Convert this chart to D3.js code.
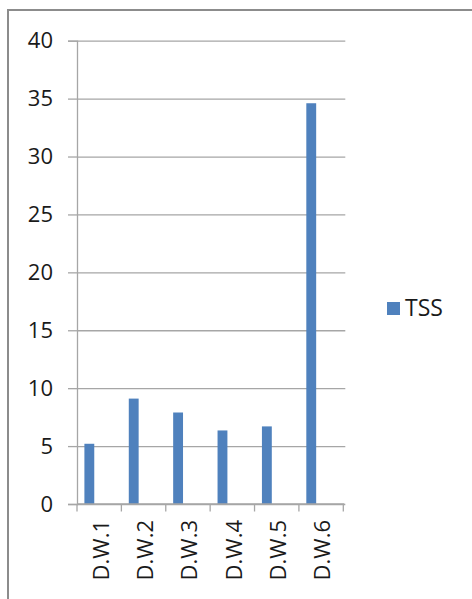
<!DOCTYPE html>
<html>
<head>
<meta charset="utf-8">
<script src="https://cdn.jsdelivr.net/npm/d3@7"></script>
<style>
  html, body { margin: 0; padding: 0; background: #fff; }
  svg { display: block; }
  text { font-family: "Open Sans", "Noto Sans", sans-serif; fill: #1a1a1a; }
</style>
</head>
<body>
<svg id="chart" width="472" height="599"></svg>
<script>
// Sampling sites and measured total suspended solids
const categories = ["D.W.1", "D.W.2", "D.W.3", "D.W.4", "D.W.5", "D.W.6"];
const tssValues = [5.2, 9.1, 7.9, 6.35, 6.7, 34.6];
const seriesName = "TSS";
// cluster slots per category (the series occupies the first slot)
const clusterSlots = [0, 1, 2];
const yTicks = [0, 5, 10, 15, 20, 25, 30, 35, 40];

(function () {
  const svg = d3.select("#chart");
  const plotLeft = 77, plotRight = 343.3, plotTop = 40.7, plotBottom = 504;
  const fontSize = 22;

  // outer frame
  svg.append("rect")
    .attr("x", 8).attr("y", 10)
    .attr("width", 480).attr("height", 600)
    .attr("fill", "none").attr("stroke", "#8c8c8c").attr("stroke-width", 2);

  const x = d3.scaleBand().domain(categories).range([plotLeft, plotRight]).padding(0);
  const xSlot = d3.scaleBand().domain(clusterSlots).range([0, x.bandwidth()])
    .paddingInner(0).paddingOuter(0.75);
  const y = d3.scaleLinear().domain([0, 40]).range([plotBottom, plotTop]);

  // horizontal gridlines
  const grid = svg.append("g").attr("transform", `translate(${plotLeft},0)`)
    .call(d3.axisRight(y).tickValues(yTicks).tickSize(plotRight - plotLeft + 2).tickFormat(""));
  grid.select(".domain").remove();
  grid.selectAll(".tick line").attr("stroke", "#a6a6a6").attr("stroke-width", 1.3);

  // y axis
  const yAxis = svg.append("g").attr("transform", `translate(${plotLeft},0)`)
    .call(d3.axisLeft(y).tickValues(yTicks).tickSize(9).tickPadding(15));
  yAxis.select(".domain").attr("stroke", "#a6a6a6").attr("stroke-width", 1.3);
  yAxis.selectAll(".tick line").attr("stroke", "#a6a6a6").attr("stroke-width", 1.3);
  yAxis.selectAll(".tick text")
    .style("font-size", fontSize + "px")
    .style("font-family", "'Open Sans', sans-serif")
    .attr("fill", "#1a1a1a");

  // bars
  svg.append("g").selectAll("rect")
    .data(tssValues)
    .join("rect")
    .attr("x", (d, i) => x(categories[i]) + xSlot(0))
    .attr("width", xSlot.bandwidth())
    .attr("y", d => y(d))
    .attr("height", d => y(0) - y(d))
    .attr("fill", "#4f81bd");

  // x axis: baseline, boundary ticks, rotated labels
  const xAxis = svg.append("g");
  xAxis.append("line")
    .attr("x1", plotLeft).attr("x2", plotRight + 1)
    .attr("y1", y(0)).attr("y2", y(0))
    .attr("stroke", "#a6a6a6").attr("stroke-width", 1.3);
  const boundaries = [x.range()[0]].concat(categories.map(c => x(c) + x.bandwidth()));
  xAxis.selectAll("line.tick")
    .data(boundaries)
    .join("line")
    .attr("class", "tick")
    .attr("x1", d => d).attr("x2", d => d)
    .attr("y1", y(0)).attr("y2", y(0) + 7.5)
    .attr("stroke", "#a6a6a6").attr("stroke-width", 1.3);
  xAxis.selectAll("text")
    .data(categories)
    .join("text")
    .attr("transform", c => `translate(${x(c) + x.bandwidth() / 2 + 1},520) rotate(-90)`)
    .attr("text-anchor", "end")
    .attr("dy", "0.38em")
    .style("font-size", fontSize + "px")
    .text(c => c);

  // legend
  const legend = svg.append("g").attr("transform", "translate(387,302)");
  legend.append("rect").attr("width", 13).attr("height", 13).attr("fill", "#4f81bd");
  legend.append("text")
    .attr("x", 18).attr("y", 13.5)
    .style("font-size", "23px")
    .text(seriesName);
})();
</script>
</body>
</html>
